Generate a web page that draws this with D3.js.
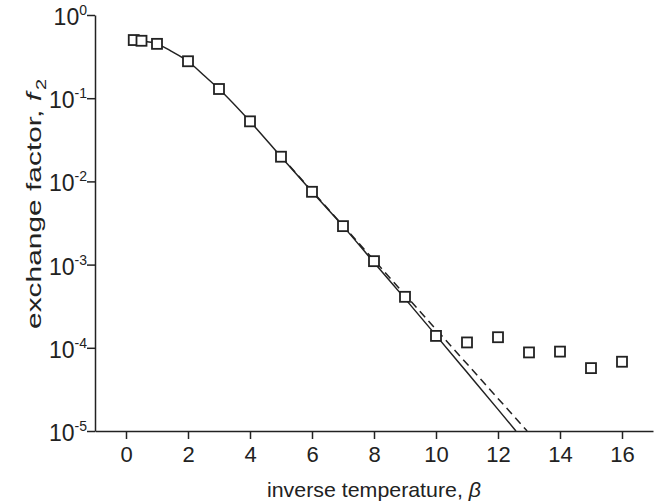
<!DOCTYPE html>
<html>
<head>
<meta charset="utf-8">
<script src="https://cdn.jsdelivr.net/npm/d3@7"></script>
<style>
  body { margin: 0; background: #fff; }
  svg { font-family: "Liberation Sans", Arial, sans-serif; }
</style>
</head>
<body>
<svg id="chart" width="663" height="504"></svg>
<script>
  // measured points (squares)
  var beta_pts = [0.25, 0.5, 1, 2, 3, 4, 5, 6, 7, 8, 9, 10, 11, 12, 13, 14, 15, 16];
  var f_pts = [0.50, 0.49, 0.45, 0.278, 0.129, 0.0527, 0.0198, 0.0075, 0.0029, 0.0011,
               4.1e-4, 1.39e-4, 1.16e-4, 1.34e-4, 8.8e-5, 9.0e-5, 5.7e-5, 6.8e-5];

  // solid curve
  var beta_fit = [0.25, 0.5, 1, 1.5, 2, 2.5, 3, 4, 5, 6, 7, 8, 9, 10, 11, 12, 12.58];
  var f_fit = [0.50, 0.49, 0.45, 0.36, 0.278, 0.19, 0.129, 0.0527, 0.0198, 0.0075, 0.0029,
               0.00106, 3.9e-4, 1.41e-4, 5.07e-5, 1.82e-5, 1e-5];

  // dashed asymptote
  var beta_asym = [5, 12.94];
  var f_asym = [0.02, 1e-5];

  var x_major = [0, 2, 4, 6, 8, 10, 12, 14, 16];
  var x_minor = [-1, 1, 3, 5, 7, 9, 11, 13, 15, 17];
  var y_exps = [0, -1, -2, -3, -4, -5];

  var ink = "#222";
  var svg = d3.select("#chart");

  var x = d3.scaleLinear().domain([-1, 17]).range([95, 653]);
  var y = d3.scaleLog().domain([1e-5, 1]).range([431, 15]);

  var y_minor = [];
  y_exps.forEach(function(e) {
    if (e == 0) return;
    for (var k = 2; k <= 9; k++) y_minor.push(k * Math.pow(10, e));
  });

  // x axis
  var gx = svg.append("g").attr("transform", "translate(0," + y.range()[0] + ")");
  gx.call(d3.axisBottom(x).tickValues(x_minor).tickSize(4.5).tickSizeOuter(0).tickFormat(""));
  gx.call(d3.axisBottom(x).tickValues(x_major).tickSize(8).tickSizeOuter(0).tickPadding(7)
            .tickFormat(d3.format("d")));
  gx.selectAll("text").attr("font-size", 22).attr("fill", ink);
  gx.attr("font-family", null);

  // y axis
  var gy = svg.append("g").attr("transform", "translate(" + x.range()[0] + ",0)");
  gy.call(d3.axisLeft(y).tickValues(y_minor).tickSize(4.5).tickSizeOuter(0).tickFormat(""));
  gy.call(d3.axisLeft(y).tickValues(y_exps.map(function(e) { return Math.pow(10, e); }))
            .tickSize(8).tickSizeOuter(0).tickFormat(""));
  gy.attr("font-family", null);

  svg.selectAll(".domain, .tick line").attr("stroke", ink).attr("stroke-width", 1.5);

  var ylab = gy.selectAll(".ylab").data(y_exps).enter().append("text")
      .attr("class", "ylab")
      .attr("x", -8)
      .attr("y", function(e) { return y(Math.pow(10, e)) + 10; })
      .attr("text-anchor", "end")
      .attr("fill", ink);
  ylab.append("tspan").attr("font-size", 23).text("10");
  ylab.append("tspan").attr("font-size", 14).attr("dy", -10).text(function(e) { return e; });

  // lines
  var line = d3.line()
      .x(function(d) { return x(d[0]); })
      .y(function(d) { return y(d[1]); });

  svg.append("path")
      .datum(d3.zip(beta_asym, f_asym))
      .attr("fill", "none")
      .attr("stroke", ink)
      .attr("stroke-width", 1.5)
      .attr("stroke-dasharray", "8,5")
      .attr("d", line);

  svg.append("path")
      .datum(d3.zip(beta_fit, f_fit))
      .attr("fill", "none")
      .attr("stroke", ink)
      .attr("stroke-width", 1.5)
      .attr("d", d3.line().curve(d3.curveMonotoneX)
        .x(function(d) { return x(d[0]); })
        .y(function(d) { return y(d[1]); }));

  // squares
  var sq = 10;
  svg.append("g").selectAll("rect")
      .data(d3.zip(beta_pts, f_pts))
      .enter().append("rect")
      .attr("x", function(d) { return x(d[0]) - sq / 2; })
      .attr("y", function(d) { return y(d[1]) - sq / 2; })
      .attr("width", sq)
      .attr("height", sq)
      .attr("fill", "#fff")
      .attr("stroke", ink)
      .attr("stroke-width", 1.8);

  // axis titles
  var xt = svg.append("text")
      .attr("x", (x.range()[0] + x.range()[1]) / 2)
      .attr("y", 497)
      .attr("text-anchor", "middle")
      .attr("font-size", 21)
      .attr("fill", ink)
      .attr("textLength", 214)
      .attr("lengthAdjust", "spacingAndGlyphs");
  xt.append("tspan").text("inverse temperature, ");
  xt.append("tspan").attr("font-style", "italic").text("\u03b2");

  var yt = svg.append("text")
      .attr("transform", "translate(41,204) rotate(-90)")
      .attr("text-anchor", "middle")
      .attr("font-size", 21)
      .attr("fill", ink)
      .attr("textLength", 250)
      .attr("lengthAdjust", "spacingAndGlyphs");
  yt.append("tspan").text("exchange factor, ");
  yt.append("tspan").attr("font-style", "italic").text("f");
  yt.append("tspan").attr("font-size", 14).attr("dy", 5).attr("dx", 2).text("2");
</script>
</body>
</html>
